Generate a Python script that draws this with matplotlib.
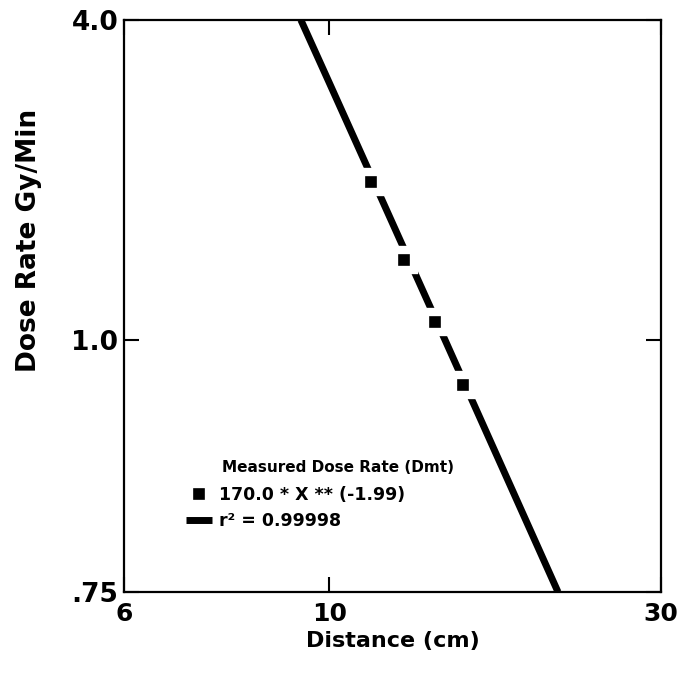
import numpy as np
import matplotlib.pyplot as plt

# measured points (distance cm, dose rate Gy/min)
dist = [11.5, 12.8, 14.2, 15.6]
dose = [1.98, 1.41, 1.08, 0.95]

# fitted line as drawn (end points and the axis break points)
fit_dist = [9.32, 10.0, 14.67, 21.33]
fit_dose = [4.0, 3.05, 1.0, 0.75]

xticks = [6, 10, 30]
xlabels = ["6", "10", "30"]
yticks = [0.75, 1.0, 4.0]
ylabels = [".75", "1.0", "4.0"]

legend_title = "Measured Dose Rate (Dmt)"
legend_labels = ["170.0 * X ** (-1.99)", "r\u00b2 = 0.99998"]


# the printed axes are log scales in two pieces, joined at the middle tick
def piece_log(lo, mid, hi, fmid):
    a0, a1, a2 = np.log10([lo, mid, hi])

    def forward(v):
        l = np.log10(np.maximum(np.asarray(v, dtype=float), 1e-12))
        return np.where(l < a1, (l - a0) / (a1 - a0) * fmid,
                        fmid + (l - a1) / (a2 - a1) * (1 - fmid))

    def inverse(u):
        u = np.asarray(u, dtype=float)
        return np.where(u < fmid, 10 ** (a0 + u / fmid * (a1 - a0)),
                        10 ** (a1 + (u - fmid) / (1 - fmid) * (a2 - a1)))

    return forward, inverse


plt.rcParams['font.family'] = ['DejaVu Sans']
plt.rcParams['font.weight'] = 'bold'

fig = plt.figure(figsize=(6.8, 6.77), dpi=100)
ax = fig.add_axes([0.1824, 0.1256, 0.7897, 0.8449])

ax.set_xscale('function', functions=piece_log(6, 10, 30, 0.382))
ax.set_yscale('function', functions=piece_log(0.75, 1.0, 4.0, 0.441))

line, = ax.plot(fit_dist, fit_dose, color='black', lw=5, solid_capstyle='butt', zorder=2)
# white edge leaves the small gap in the line around each point
pts, = ax.plot(dist, dose, ls='none', marker='s', ms=14, mfc='black',
               mec='white', mew=6, zorder=3)

ax.set_xlim(6, 30)
ax.set_ylim(0.75, 4.0)
ax.set_xticks(xticks)
ax.set_xticklabels(xlabels)
ax.set_yticks(yticks)
ax.set_yticklabels(ylabels)
ax.minorticks_off()
ax.tick_params(direction='in', length=11, width=1.5, top=True, right=True,
               labelsize=19)
ax.tick_params(axis='x', pad=7, labelsize=18)
ax.tick_params(axis='y', pad=4)
for s in ax.spines.values():
    s.set_linewidth(1.6)

ax.set_xlabel("Distance (cm)", fontsize=16, fontweight='bold')
ax.set_ylabel("Dose Rate Gy/Min", fontsize=19, fontweight='bold')
ax.xaxis.set_label_coords(0.5, -0.068)
ax.yaxis.set_label_coords(-0.152, 0.615)

# legend
fig.text(222 / 680, 1 - 467 / 677, legend_title, fontsize=11,
         fontweight='bold', va='center', ha='left')
fig.legend([pts, line], legend_labels, loc='upper left',
           bbox_to_anchor=(186 / 680, 1 - 486 / 677), frameon=False,
           fontsize=12.5, handlelength=1.5, handletextpad=0.4,
           labelspacing=0.45, borderpad=0, borderaxespad=0)

plt.savefig("out.png", dpi=100)
